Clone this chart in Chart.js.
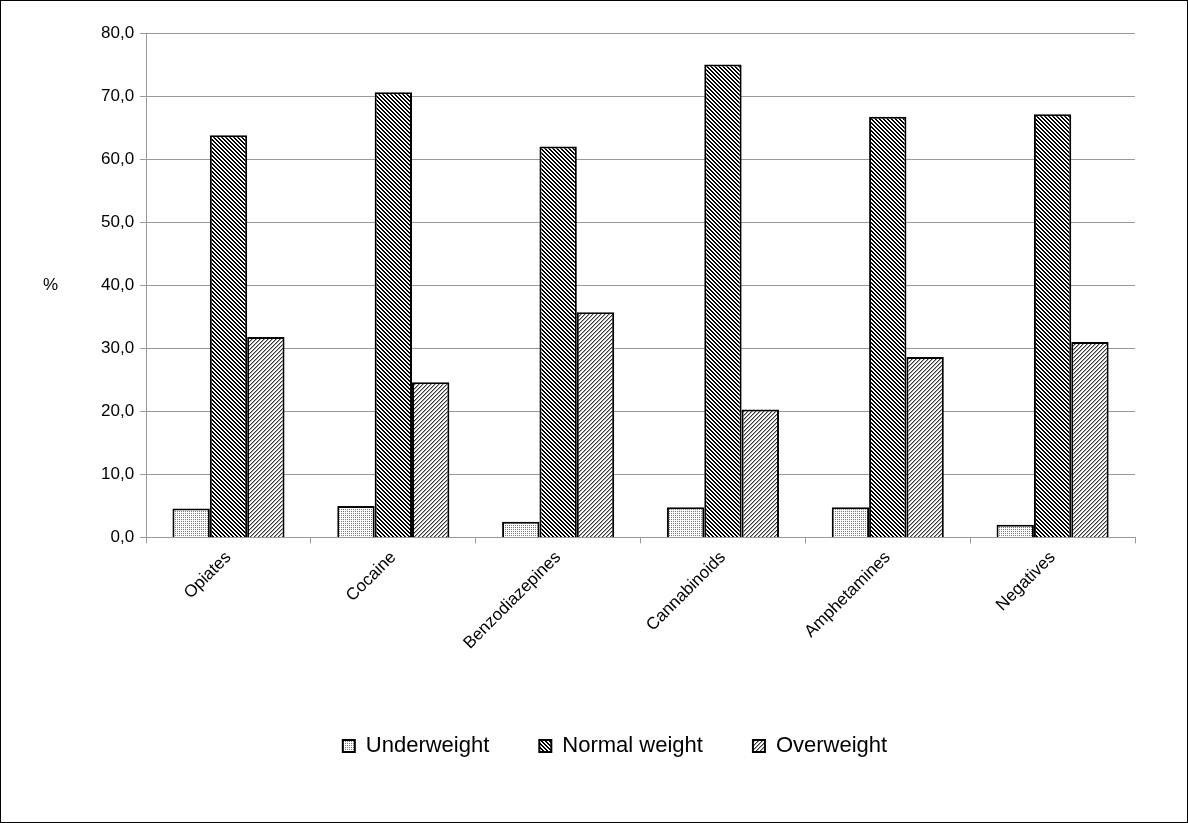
<!DOCTYPE html>
<html>
<head>
<meta charset="utf-8">
<script src="https://cdn.jsdelivr.net/npm/chart.js@4"></script>
<style>
  html, body { margin: 0; padding: 0; background: #fff; }
  #wrap { width: 1186px; height: 821px; border: 1px solid #000; position: relative; }
</style>
</head>
<body>
<div id="wrap"><canvas id="c" width="1186" height="821"></canvas></div>
<script>
// 数据
const categories = ['Opiates', 'Cocaine', 'Benzodiazepines', 'Cannabinoids', 'Amphetamines', 'Negatives'];
const underweight = [4.6, 5.0, 2.5, 4.8, 4.8, 2.0];
const normalWeight = [63.8, 70.6, 62.0, 75.0, 66.7, 67.1];
const overweight = [31.8, 24.6, 35.7, 20.3, 28.6, 31.0];
const yTicks = ['0,0', '10,0', '20,0', '30,0', '40,0', '50,0', '60,0', '70,0', '80,0'];

// 填充图案（逐像素绘制，避免拼接缝）
function makePattern(kind) {
    const s = 4;
    const p = document.createElement('canvas');
    p.width = s; p.height = s;
    const g = p.getContext('2d');
    g.fillStyle = '#fff';
    g.fillRect(0, 0, s, s);
    for (let y = 0; y < s; y++) {
        for (let x = 0; x < s; x++) {
            if (kind === 'dots') {
                if ((x + y) % 2 === 0 && y % 2 === 0) { g.fillStyle = '#777'; g.fillRect(x, y, 1, 1); }
            } else if (kind === 'dark') {
                const m = ((x - y) % 4 + 4) % 4;
                if (m === 0 || m === 1) { g.fillStyle = '#000'; g.fillRect(x, y, 1, 1); }
            } else {
                const m = (x + y) % 4;
                if (m === 0) { g.fillStyle = '#333'; g.fillRect(x, y, 1, 1); }
                else if (m === 1) { g.fillStyle = '#aaa'; g.fillRect(x, y, 1, 1); }
            }
        }
    }
    return g.createPattern(p, 'repeat');
}

const ctx = document.getElementById('c').getContext('2d');
const font = { family: 'Liberation Sans, Arial, sans-serif', size: 17 };

const percentLabel = {
    id: 'percentLabel',
    afterDraw(chart) {
        const y = chart.scales.y;
        const c = chart.ctx;
        c.save();
        c.font = '17px Liberation Sans, Arial, sans-serif';
        c.fillStyle = '#000';
        c.textAlign = 'left';
        c.textBaseline = 'middle';
        c.fillText('%', 42, y.getPixelForValue(40));
        c.restore();
    }
};

new Chart(ctx, {
    type: 'bar',
    data: {
        labels: categories,
        datasets: [
            { label: 'Underweight', data: underweight, backgroundColor: makePattern('dots'), borderColor: '#000', borderWidth: 2 },
            { label: 'Normal weight', data: normalWeight, backgroundColor: makePattern('dark'), borderColor: '#000', borderWidth: 2 },
            { label: 'Overweight', data: overweight, backgroundColor: makePattern('light'), borderColor: '#000', borderWidth: 2 }
        ]
    },
    options: {
        responsive: false,
        animation: false,
        devicePixelRatio: 1,
        categoryPercentage: 0.68,
        barPercentage: 1.0,
        layout: { padding: { left: 94, right: 52, top: 32, bottom: 55 } },
        scales: {
            y: {
                min: 0, max: 80,
                ticks: { stepSize: 10, color: '#000', font: font, padding: 6,
                    callback: (v, i) => yTicks[i] },
                grid: { color: '#999', lineWidth: 1, tickLength: 6, tickColor: '#999' },
                border: { color: '#999' }
            },
            x: {
                ticks: { color: '#000', font: font, maxRotation: 45, minRotation: 45, padding: 4 },
                grid: { display: true, drawOnChartArea: false, offset: true, color: '#999', tickLength: 6 },
                border: { color: '#999' }
            }
        },
        plugins: {
            legend: {
                position: 'bottom',
                title: { display: true, text: ' ', font: { size: 8 }, padding: { top: 9, bottom: 9 } },
                labels: { color: '#000', font: { family: font.family, size: 22 },
                    boxWidth: 12, boxHeight: 12, padding: 50 }
            },
            tooltip: { enabled: false },
            title: { display: false }
        }
    },
    plugins: [percentLabel]
});
</script>
</body>
</html>
